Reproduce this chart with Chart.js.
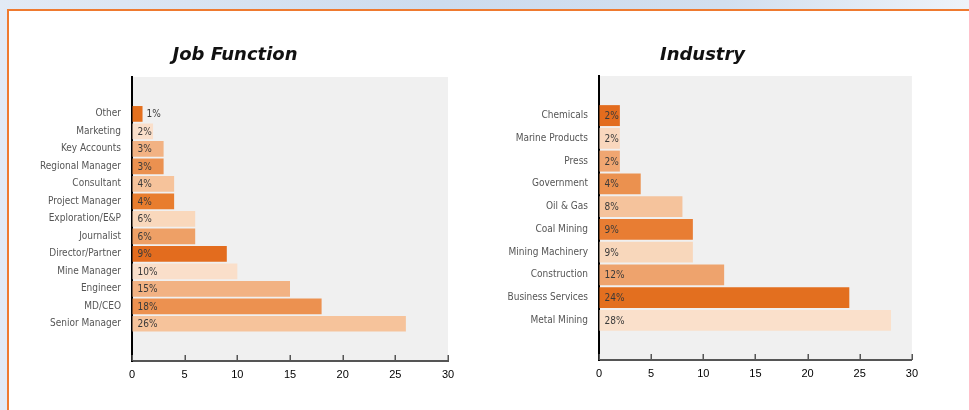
<!DOCTYPE html>
<html><head><meta charset="utf-8">
<script src="https://cdn.jsdelivr.net/npm/chart.js@4"></script>
<style>
html,body{margin:0;padding:0;width:969px;height:410px;overflow:hidden;}
body{background:linear-gradient(90deg,#e2eaf5 0%,#cddcee 45%,#d2dfef 75%,#eef3f9 100%);position:relative;}
#frame{position:absolute;left:7px;top:9px;width:990px;height:430px;border:2px solid #ef7a2f;background:#fff;box-sizing:border-box;}
.c{position:absolute;}
</style></head><body>
<div id="frame"></div>
<div class="c" style="left:8px;top:30px;width:454px;height:370px"><canvas id="c1"></canvas></div>
<div class="c" style="left:480px;top:30px;width:445px;height:370px"><canvas id="c2"></canvas></div>
<script>
const jobCategories = ['Other','Marketing','Key Accounts','Regional Manager','Consultant','Project Manager','Exploration/E&P','Journalist','Director/Partner','Mine Manager','Engineer','MD/CEO','Senior Manager'];
const jobValues = [1,2,3,3,4,4,6,6,9,10,15,18,26];
const jobColors = ['#e4701e','#fadfca','#f2b283','#eb9150','#f6c39b','#e87d2e','#f9d8bc','#eea066','#e36c1e','#fadfca','#f2b283','#ec9150','#f6c39b'];

const industryCategories = ['Chemicals','Marine Products','Press','Government','Oil & Gas','Coal Mining','Mining Machinery','Construction','Business Services','Metal Mining'];
const industryValues = [2,2,2,4,8,9,9,12,24,28];
const industryColors = ['#e36c1e','#f9d7bd','#f0a671','#eb914f','#f5c39c','#e87d33','#f8d7bb','#eea36d','#e36f1f','#fae0cb'];

const xTicks = [0,5,10,15,20,25,30];

const labelFont = {family:"'DejaVu Sans Condensed','Liberation Sans Narrow','Liberation Sans',sans-serif", size:10};

const bgPlugin = {
  id:'bg',
  beforeDraw(chart){
    const a = chart.chartArea, ctx = chart.ctx;
    ctx.save(); ctx.fillStyle = '#f0f0f0';
    ctx.fillRect(a.left, a.top, a.right - a.left, a.bottom - a.top);
    ctx.restore();
  }
};
const tickPlugin = {
  id:'inTicks',
  afterDraw(chart){
    const x = chart.scales.x, a = chart.chartArea, ctx = chart.ctx;
    ctx.save(); ctx.strokeStyle = '#555'; ctx.lineWidth = 1.5;
    xTicks.forEach(v => {
      const px = Math.round(x.getPixelForValue(v)) + 0.25;
      ctx.beginPath(); ctx.moveTo(px, a.bottom); ctx.lineTo(px, a.bottom - 6); ctx.stroke();
    });
    ctx.restore();
  }
};
const valueLabelPlugin = {
  id:'valueLabels',
  afterDatasetsDraw(chart){
    const ctx = chart.ctx, meta = chart.getDatasetMeta(0), ds = chart.data.datasets[0];
    ctx.save();
    ctx.font = labelFont.size + 'px ' + labelFont.family;
    ctx.fillStyle = '#3a3a3a'; ctx.textAlign = 'left'; ctx.textBaseline = 'middle';
    meta.data.forEach((bar, i) => {
      const txt = ds.data[i].x + '%';
      const w = ctx.measureText(txt).width;
      const len = bar.x - bar.base;
      const tx = (len >= w + 5) ? bar.base + 5 : bar.x + 4;
      ctx.fillText(txt, tx, bar.y + 1);
    });
    ctx.restore();
  }
};

function makeChart(id, title, cats, vals, colors, opt){
  const data = vals.map((v, i) => ({x: v, y: i}));
  return new Chart(document.getElementById(id), {
    type:'bar',
    data:{datasets:[{data, backgroundColor: colors, borderWidth:0, categoryPercentage:1, barPercentage: opt.barPct}]},
    options:{
      indexAxis:'y', responsive:true, maintainAspectRatio:false, animation:false,
      layout:{padding:{left: opt.padLeft, right: opt.padRight, top:0, bottom:0}},
      plugins:{
        legend:{display:false}, tooltip:{enabled:false},
        title:{display:true, text:title, color:'#111',
          font:{family:"'DejaVu Sans',sans-serif", size:18, weight:'bold', style:'italic'},
          padding:{top:14.2, bottom: opt.titleBottom}}
      },
      scales:{
        x:{type:'linear', min:0, max:30,
          afterBuildTicks: s => { s.ticks = xTicks.map(v => ({value:v})); },
          ticks:{color:'#000', padding:7, font:{family:"'Liberation Sans',Arial,sans-serif", size:11}},
          grid:{drawOnChartArea:false, drawTicks:false, color:'transparent'},
          border:{display:true, color:'#555', width:2},
          afterFit: s => { s.height = opt.xHeight; }
        },
        y:{type:'linear', reverse:true, offset:false, min: -opt.padTop, max: cats.length - 1 + opt.padBottom,
          afterBuildTicks: s => { s.ticks = cats.map((c, i) => ({value:i})); },
          ticks:{autoSkip:false, color:'#555', padding:11, font: labelFont,
            callback: v => cats[v] !== undefined ? cats[v] : ''},
          grid:{offset:false, drawOnChartArea:false, drawTicks:false, color:'transparent'},
          border:{display:true, color:'#000', width:2},
          afterFit: s => { s.width = opt.yWidth; }
        }
      }
    },
    plugins:[bgPlugin, tickPlugin, valueLabelPlugin]
  });
}

makeChart('c1', 'Job Function', jobCategories, jobValues, jobColors,
  {barPct:0.9, padTop:2.11, padBottom:2.13, padLeft:14, yWidth:110, padRight:14, xHeight:39, titleBottom:11.2});
makeChart('c2', 'Industry', industryCategories, industryValues, industryColors,
  {barPct:0.92, padTop:1.74, padBottom:1.74, padLeft:10, yWidth:109, padRight:10, xHeight:40, titleBottom:10.2});
</script>
</body></html>
